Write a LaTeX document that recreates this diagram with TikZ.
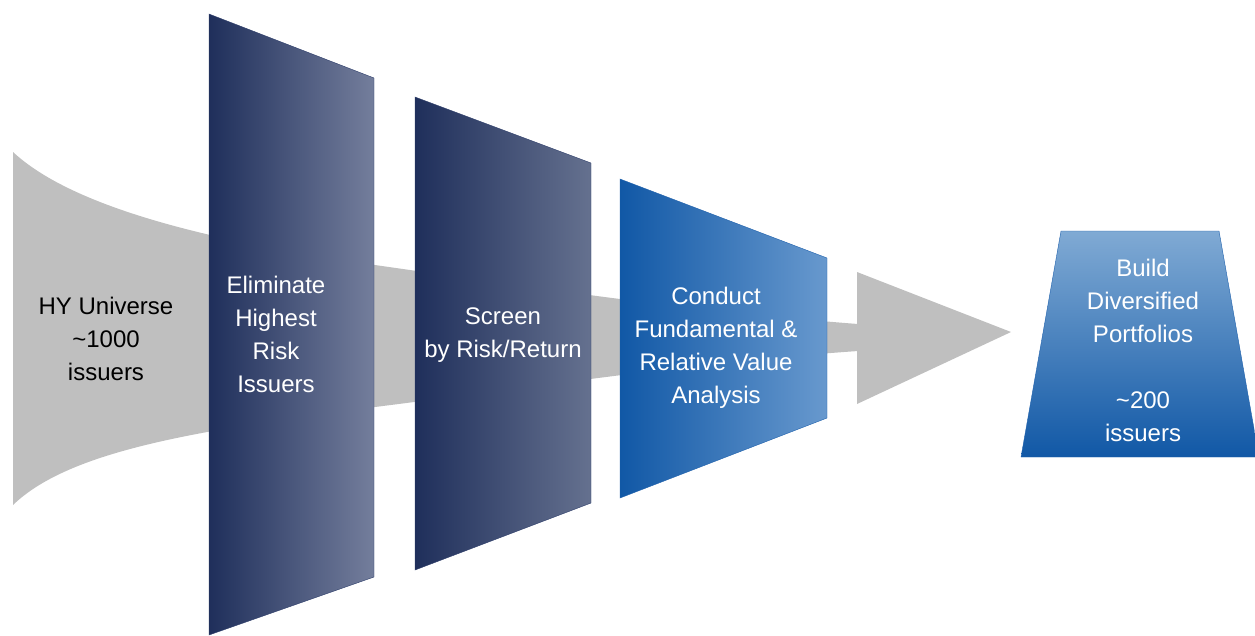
\documentclass[tikz,border=0pt]{standalone}
\usepackage{fontspec}
\setmainfont{Liberation Sans}
\definecolor{navy}{RGB}{31,47,91}
\definecolor{navylight}{RGB}{116,126,156}
\definecolor{navymid}{RGB}{101,113,143}
\definecolor{navyline}{RGB}{44,60,105}
\definecolor{bluedark}{RGB}{17,88,166}
\definecolor{bluelight}{RGB}{104,153,206}
\definecolor{bluetop}{RGB}{128,170,212}
\definecolor{blueline}{RGB}{30,96,172}
\definecolor{funnelgray}{RGB}{191,191,191}
\tikzset{
  label/.style={align=center,inner sep=0pt,font=\fontsize{24}{33}\selectfont},
  whitelabel/.style={label,text=white}
}
\begin{document}
\begin{tikzpicture}[x=1pt,y=-1pt]
		\useasboundingbox (0,0) rectangle (1255,635);
		% funnel and arrow head
		\fill [funnelgray](13,152) .. controls (70,205) and (200,240) .. (375,265)
		  .. controls (550,290) and (700,312) .. (858,324) -- (858,351)
		  .. controls (700,362) and (550,385) .. (375,407)
		  .. controls (200,430) and (70,450) .. (13,505) -- cycle;
		\fill [funnelgray](857,272)--(1011,332)--(857,404)--cycle;
		
		% panels
		\draw [navyline,left color=navy,right color=navylight](209,14)--(374,78)--(374,577)--(209,635)--cycle;
		\draw [navyline,left color=navy,right color=navymid](415,97)--(591,163)--(591,503)--(415,570)--cycle;
		\draw [blueline,left color=bluedark,right color=bluelight](620,179)--(827,258)--(827,418)--(620,498)--cycle;
		\draw [blueline,top color=bluetop,bottom color=bluedark](1061,231)--(1219,231)--(1259,457)--(1021,457)--cycle;
		
		\node (universe) at (106,339) [label] {HY Universe\\\textasciitilde1000\\issuers};
		\node (eliminate) at (276,334) [whitelabel] {Eliminate\\Highest\\Risk\\Issuers};
		\node (screen) at (503,335) [whitelabel] {Screen\\by Risk/Return};
		\node (conduct) at (716,348) [whitelabel] {Conduct\\Fundamental \&\\Relative Value\\Analysis};
		\node (build) at (1143,350) [whitelabel] {Build\\Diversified\\Portfolios\\[33pt]\textasciitilde200\\issuers};
	\end{tikzpicture}
\end{document}
